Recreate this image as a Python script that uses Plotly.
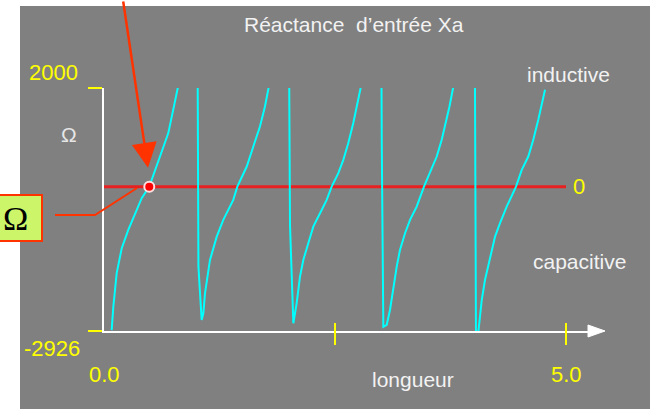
import plotly.graph_objects as go

# input reactance Xa (ohm) versus line length
longueur = [0.083, 0.101, 0.137, 0.192, 0.263, 0.335, 0.408, 0.490, 0.552, 0.625, 0.696, 0.744, 0.793,
            0.877, 0.952, 1.012,
            1.022, 1.057, 1.075, 1.093, 1.147, 1.220, 1.291, 1.399, 1.443, 1.545, 1.616, 1.688, 1.742, 1.778,
            1.851, 1.937, 2.002,
            2.013, 2.049, 2.085, 2.121, 2.157, 2.211, 2.265, 2.338, 2.410, 2.464, 2.536, 2.590, 2.644, 2.698,
            2.735, 2.778,
            2.846, 2.933, 3.001,
            3.006, 3.023, 3.060, 3.095, 3.131, 3.168, 3.203, 3.258, 3.312, 3.384, 3.463, 3.528, 3.601, 3.655,
            3.709, 3.739, 3.774,
            3.853, 3.939, 4.013,
            4.026, 4.051, 4.088, 4.123, 4.177, 4.232, 4.286, 4.358, 4.459, 4.521, 4.592, 4.646, 4.700, 4.754,
            4.773]
xa = [-2907, -2434, -1756, -1248, -877, -538, -233, 0, 341, 713, 1086, 1492, 1965,
      2700, 3600, 3000,
      -1622, -2704, -2568, -2162, -1486, -1013, -674, -268, 0, 408, 814, 1220, 1626, 1965,
      2700, 3500, 3000,
      -775, -2770, -2365, -1825, -1486, -1147, -810, -538, -268, 0, 274, 544, 883, 1289,
      1626, 1965,
      2700, 3400, 3000,
      916, -2840, -2800, -2500, -2028, -1622, -1283, -944, -674, -404, 0, 274, 611, 950,
      1356, 1626, 1965,
      2700, 3400, 3000,
      -3200, -2950, -2298, -1892, -1486, -1013, -741, -404, 0, 341, 611, 950, 1356, 1762,
      1965]

zero_x = [0.0, 5.0]
zero_y = [0, 0]
point_x = [0.49]
point_y = [0]

y_tick_vals = [-2926, 2000]
y_tick_text = ['-2926', '2000']
x_tick_vals = [2.5, 5.0]
x_label_vals = [0.0, 5.0]
x_label_text = ['0.0', '5.0']

GREY = '#808080'
YELLOW = '#ffff00'
ORANGE = '#ff3300'
TXT = '#f2f2f2'
FONT = 'Liberation Sans, Arial, sans-serif'


# pixel -> paper helpers for the decorations (plot area is 104..590 x 88..331)
def px(x):
    return (x - 104) / 486


def py(y):
    return (331 - y) / 243


fig = go.Figure()
fig.add_trace(go.Scatter(x=zero_x, y=zero_y, mode='lines',
                         line=dict(color='#e82020', width=3), hoverinfo='skip'))
fig.add_trace(go.Scatter(x=longueur, y=xa, mode='lines',
                         line=dict(color='#00ffff', width=2), name='Xa'))
fig.add_trace(go.Scatter(x=point_x, y=point_y, mode='markers', cliponaxis=False,
                         marker=dict(color='#ff0000', size=10, line=dict(color='#ffe0e0', width=2))))

shapes = [
    # grey panel
    dict(type='rect', xref='paper', yref='paper', layer='below',
         x0=px(20), x1=px(650), y0=py(420), y1=py(6), fillcolor=GREY, line_width=0),
    # arrow head of the x axis
    dict(type='path', xref='paper', yref='paper', fillcolor='white', line=dict(color='white', width=1),
         path=f'M{px(588)},{py(325)} L{px(605)},{py(331)} L{px(588)},{py(337)} Z'),
    # Omega box and its leader line
    dict(type='rect', xref='paper', yref='paper', x0=px(-10), x1=px(42), y0=py(241), y1=py(195),
         fillcolor='#ccf56a', line=dict(color=ORANGE, width=2)),
    dict(type='path', xref='paper', yref='paper', line=dict(color=ORANGE, width=2),
         path=f'M{px(55)},{py(215)} L{px(95)},{py(215)} L{px(137)},{py(188)}'),
]
for v in x_tick_vals:
    shapes.append(dict(type='line', xref='x', yref='paper', x0=v, x1=v, y0=py(345), y1=py(323),
                       line=dict(color=YELLOW, width=2)))

ann = [
    dict(x=px(354), y=py(25), text='Réactance  d’entrée Xa', font=dict(size=21, color=TXT)),
    dict(x=px(69), y=py(134), text='Ω', font=dict(size=21, color='#e6e6e6')),
    dict(x=px(568), y=py(74), text='inductive', font=dict(size=21, color=TXT)),
    dict(x=px(579), y=py(261), text='capacitive', font=dict(size=21, color=TXT)),
    dict(x=px(413), y=py(379), text='longueur', font=dict(size=21, color=TXT)),
    dict(x=px(579), y=py(186), text='0', font=dict(size=22, color=YELLOW)),
    dict(x=px(53), y=py(72), text=y_tick_text[1], font=dict(size=22, color=YELLOW)),
    dict(x=px(52), y=py(348), text=y_tick_text[0], font=dict(size=22, color=YELLOW)),
    dict(x=px(15), y=py(218), text='Ω', font=dict(size=34, color='black', family='Liberation Serif, serif')),
]
for v, t in zip(x_label_vals, x_label_text):
    ann.append(dict(x=v, xref='x', y=py(374), text=t, font=dict(size=22, color=YELLOW)))
for a in ann:
    a.setdefault('xref', 'paper')
    a.setdefault('yref', 'paper')
    a['showarrow'] = False
    a['xanchor'] = 'center'
    a['yanchor'] = 'middle'

# red pointer arrow towards the zero crossing
ann.append(dict(x=0.476, y=382, xref='x', yref='y', ax=-25, ay=-176, text='',
                showarrow=True, arrowhead=2, arrowsize=2.0, arrowwidth=2.5, arrowcolor=ORANGE,
                standoff=0))

fig.update_layout(
    width=656, height=409,
    margin=dict(l=104, r=66, t=88, b=78),
    paper_bgcolor='white', plot_bgcolor=GREY,
    showlegend=False,
    font=dict(family=FONT),
    shapes=shapes,
    annotations=ann,
    xaxis=dict(range=[0, 486 / 92.4], showgrid=False, zeroline=False, showticklabels=False,
               showline=True, linecolor='white', linewidth=2, ticks=''),
    yaxis=dict(range=[-2926, 2000], showgrid=False, zeroline=False, showticklabels=False,
               showline=True, linecolor='white', linewidth=2,
               tickmode='array', tickvals=y_tick_vals, ticks='outside', ticklen=14,
               tickwidth=2, tickcolor=YELLOW),
)

# drop the default page margin so the figure sits in the window corner
fig.write_html('out.html', config={'displayModeBar': False},
               post_script="document.body.style.margin='0';")
